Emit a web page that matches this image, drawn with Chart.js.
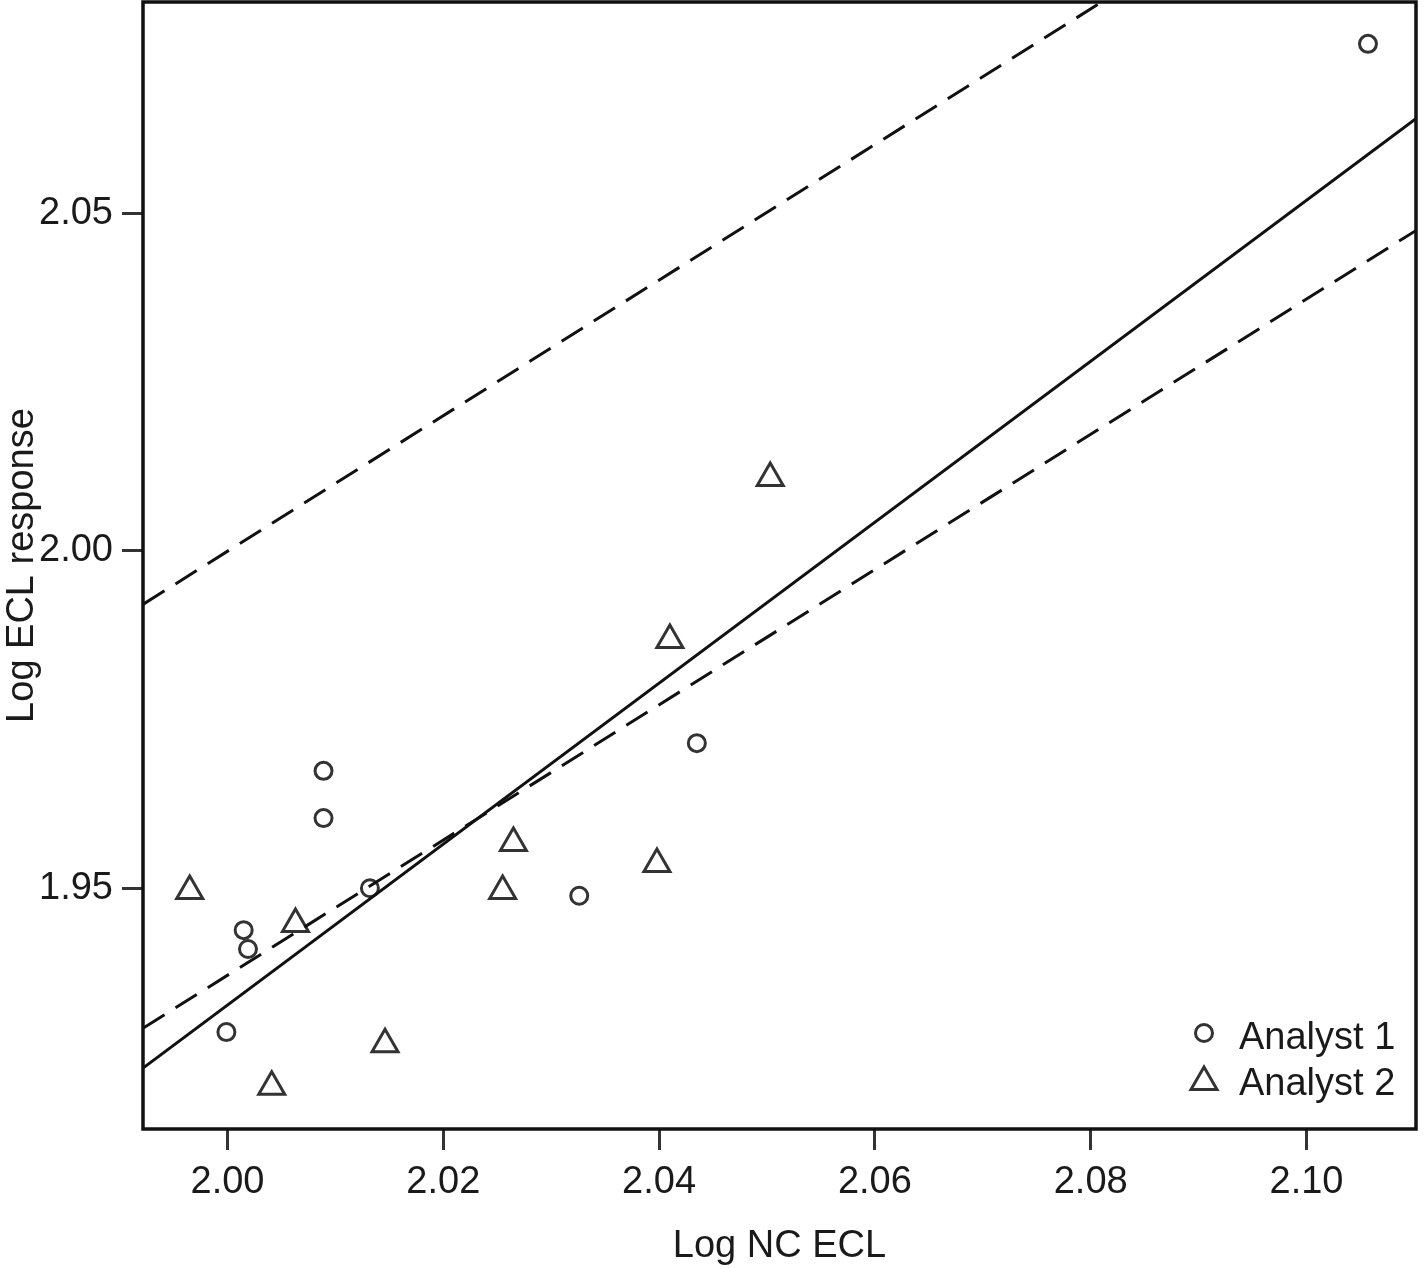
<!DOCTYPE html>
<html>
<head>
<meta charset="utf-8">
<title>Log ECL response vs Log NC ECL</title>
<script src="https://cdn.jsdelivr.net/npm/chart.js@4.4.1/dist/chart.umd.min.js"></script>
<style>
  html, body { margin: 0; padding: 0; background: #fff; }
  #wrap { width: 1424px; height: 1268px; }
</style>
</head>
<body>
<div id="wrap"><canvas id="chart" width="1424" height="1268"></canvas></div>
<script>
// Points
const analyst1X = [2.1057, 2.0089, 2.0089, 2.0132, 2.0015, 2.0019, 1.9999, 2.0326, 2.0435];
const analyst1Y = [2.0751, 1.9674, 1.9604, 1.9500, 1.9438, 1.9410, 1.9287, 1.9489, 1.9715];
const analyst2X = [1.9965, 2.0063, 2.0041, 2.0146, 2.0255, 2.0265, 2.0398, 2.0410, 2.0503];
const analyst2Y = [1.9496, 1.9447, 1.9206, 1.9269, 1.9496, 1.9567, 1.9536, 1.9868, 2.0108];

// Droite d'ajustement et limites (extrémités aux bords du cadre)
const lineX = [1.9922, 2.1102];
const fitY = [1.9234, 2.0641];
const lowerY = [1.9293, 2.0475];
const upperY = [1.9921, 2.1106];

// Axes
const xTicks = [2.00, 2.02, 2.04, 2.06, 2.08, 2.10];
const yTicks = [1.95, 2.00, 2.05];
const xRange = [1.99217, 2.11015];
const yRange = [1.91434, 2.0813];

const FONT = "'Liberation Sans', Arial, Helvetica, sans-serif";
const INK = '#1a1a1a';
const MARK = '#333333';

function pairs(xs, ys) {
    return xs.map((x, i) => ({ x: x, y: ys[i] }));
}

// Cadre complet autour de la zone de tracé
const framePlugin = {
    id: 'frame',
    afterDatasetsDraw(chart) {
        const a = chart.chartArea;
        const ctx = chart.ctx;
        ctx.save();
        ctx.strokeStyle = '#111';
        ctx.lineWidth = 3.5;
        ctx.strokeRect(a.left, a.top, a.right - a.left, a.bottom - a.top);
        ctx.restore();
    }
};

// Légende dans le coin inférieur droit
const legendPlugin = {
    id: 'insideLegend',
    afterDraw(chart) {
        const a = chart.chartArea;
        const ctx = chart.ctx;
        const items = [chart.data.datasets[3], chart.data.datasets[4]];
        ctx.save();
        items.forEach((ds, i) => {
            const cy = a.bottom - 96 + i * 46;
            ctx.fillStyle = 'rgba(0,0,0,0)';
            ctx.strokeStyle = ds.borderColor;
            ctx.lineWidth = ds.borderWidth;
            Chart.helpers.drawPoint(ctx, {
                pointStyle: ds.pointStyle,
                radius: ds.pointRadius,
                borderWidth: ds.borderWidth
            }, a.right - 212, cy + (ds.pointStyle === 'triangle' ? 3 : 0));
            ctx.fillStyle = INK;
            ctx.font = '38px ' + FONT;
            ctx.textAlign = 'left';
            ctx.textBaseline = 'alphabetic';
            ctx.fillText(ds.label, a.right - 177, cy + 16);
        });
        ctx.restore();
    }
};

const ctx = document.getElementById('chart').getContext('2d');

new Chart(ctx, {
    type: 'scatter',
    data: {
        datasets: [
            {
                label: 'Fit',
                data: pairs(lineX, fitY),
                showLine: true,
                borderColor: '#111',
                borderWidth: 3,
                pointRadius: 0,
                clip: 0
            },
            {
                label: 'Lower',
                data: pairs(lineX, lowerY),
                showLine: true,
                borderColor: '#111',
                borderWidth: 3,
                borderDash: [25, 13],
                pointRadius: 0,
                clip: 0
            },
            {
                label: 'Upper',
                data: pairs(lineX, upperY),
                showLine: true,
                borderColor: '#111',
                borderWidth: 3,
                borderDash: [25, 13],
                pointRadius: 0,
                clip: 0
            },
            {
                label: 'Analyst 1',
                data: pairs(analyst1X, analyst1Y),
                pointStyle: 'circle',
                pointRadius: 8.5,
                borderWidth: 3,
                borderColor: MARK,
                backgroundColor: 'rgba(0,0,0,0)'
            },
            {
                label: 'Analyst 2',
                data: pairs(analyst2X, analyst2Y),
                pointStyle: 'triangle',
                pointRadius: 15,
                borderWidth: 3,
                borderColor: MARK,
                backgroundColor: 'rgba(0,0,0,0)'
            }
        ]
    },
    options: {
        responsive: false,
        animation: false,
        layout: {
            autoPadding: false,
            padding: { left: 0, right: 8, top: 2, bottom: 0 }
        },
        plugins: {
            legend: { display: false },
            tooltip: { enabled: false }
        },
        scales: {
            x: {
                type: 'linear',
                min: xRange[0],
                max: xRange[1],
                afterBuildTicks: scale => { scale.ticks = xTicks.map(v => ({ value: v })); },
                afterFit: scale => {
                    scale.height = 139;
                    scale.paddingLeft = 0;
                    scale.paddingRight = 0;
                },
                border: { display: false },
                grid: {
                    drawOnChartArea: false,
                    drawTicks: true,
                    tickLength: 21,
                    lineWidth: 3,
                    color: MARK
                },
                ticks: {
                    padding: 10,
                    color: INK,
                    font: { family: FONT, size: 38 },
                    callback: v => v.toFixed(2)
                },
                title: {
                    display: true,
                    text: 'Log NC ECL',
                    color: INK,
                    font: { family: FONT, size: 38, lineHeight: 1 },
                    padding: { top: 0, bottom: 2 }
                }
            },
            y: {
                type: 'linear',
                min: yRange[0],
                max: yRange[1],
                afterBuildTicks: scale => { scale.ticks = yTicks.map(v => ({ value: v })); },
                afterFit: scale => {
                    scale.width = 143;
                    scale.paddingTop = 0;
                    scale.paddingBottom = 0;
                },
                border: { display: false },
                grid: {
                    drawOnChartArea: false,
                    drawTicks: true,
                    tickLength: 21,
                    lineWidth: 3,
                    color: MARK
                },
                ticks: {
                    padding: 9,
                    color: INK,
                    font: { family: FONT, size: 38 },
                    callback: v => v.toFixed(2)
                },
                title: {
                    display: true,
                    text: 'Log ECL response',
                    color: INK,
                    font: { family: FONT, size: 38, lineHeight: 1 },
                    padding: { top: 4, bottom: 0 }
                }
            }
        }
    },
    plugins: [framePlugin, legendPlugin]
});
</script>
</body>
</html>
